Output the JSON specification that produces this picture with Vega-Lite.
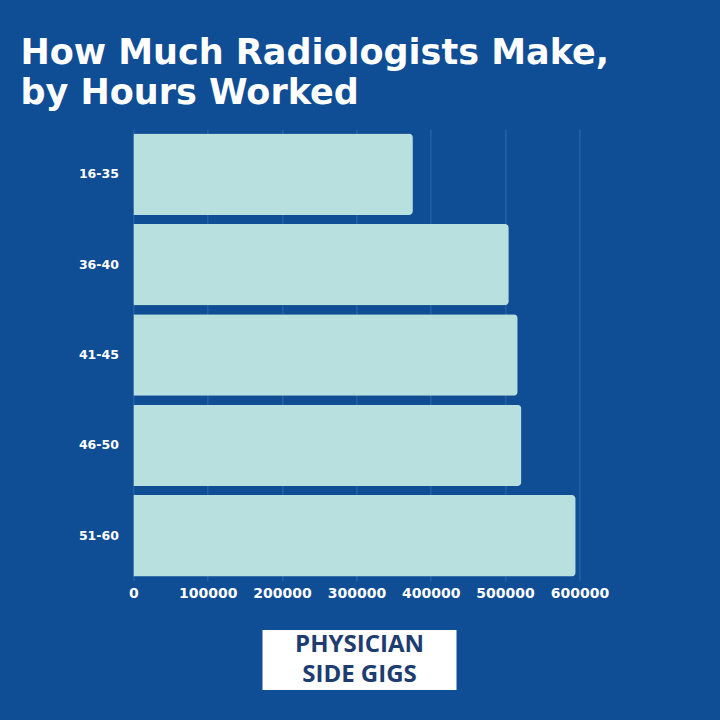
{
  "$schema": "https://vega.github.io/schema/vega-lite/v6.json",
  "background": "#0f4d95",
  "padding": {"left": 20, "top": 36, "right": 140, "bottom": 30},
  "title": {
    "text": ["How Much Radiologists Make,", "by Hours Worked"],
    "anchor": "start",
    "frame": "bounds",
    "dx": -58,
    "color": "#ffffff",
    "font": "DejaVu Sans",
    "fontWeight": "bold",
    "fontSize": 35,
    "lineHeight": 40,
    "offset": 18
  },
  "vconcat": [
    {
      "width": 446,
      "height": 452,
      "data": {
        "values": [
          {"hours": "16-35", "salary": 376000},
          {"hours": "36-40", "salary": 505000},
          {"hours": "41-45", "salary": 517000},
          {"hours": "46-50", "salary": 522000},
          {"hours": "51-60", "salary": 595000}
        ]
      },
      "mark": {"type": "bar", "color": "#b8e0df", "cornerRadiusEnd": 4},
      "encoding": {
        "y": {
          "field": "hours",
          "type": "nominal",
          "sort": ["16-35", "36-40", "41-45", "46-50", "51-60"],
          "scale": {"paddingInner": 0.1, "paddingOuter": 0.05},
          "axis": {
            "title": null,
            "ticks": false,
            "domain": false,
            "labelColor": "#ffffff",
            "labelFont": "DejaVu Sans",
            "labelFontWeight": "bold",
            "labelFontSize": 12.5,
            "labelPadding": 15
          }
        },
        "x": {
          "field": "salary",
          "type": "quantitative",
          "scale": {"domain": [0, 600000], "nice": false},
          "axis": {
            "title": null,
            "values": [0, 100000, 200000, 300000, 400000, 500000, 600000],
            "format": "d",
            "ticks": false,
            "domain": false,
            "grid": true,
            "gridColor": "#5a8ccc",
            "gridOpacity": 0.45,
            "labelOverlap": false,
            "labelFlush": false,
            "labelColor": "#ffffff",
            "labelFont": "DejaVu Sans",
            "labelFontWeight": "bold",
            "labelFontSize": 14,
            "labelPadding": 5
          }
        }
      }
    },
    {
      "width": 194,
      "height": 60,
      "view": {"fill": "#ffffff", "stroke": null},
      "data": {"values": [{"brand": "Physician Side Gigs", "logo": "PHYSICIAN\nSIDE GIGS"}]},
      "mark": {
        "type": "text",
        "lineBreak": "\n",
        "font": "Open Sans",
        "fontWeight": "bold",
        "fontSize": 24,
        "lineHeight": 30,
        "dy": -15,
        "color": "#1d3c70",
        "align": "center",
        "baseline": "middle"
      },
      "encoding": {
        "text": {"field": "logo", "type": "nominal"},
        "y": {
          "field": "brand",
          "type": "nominal",
          "axis": {
            "orient": "right",
            "title": "Logo",
            "titleOpacity": 0,
            "titleFontSize": 11,
            "titlePadding": 12,
            "labels": false,
            "ticks": false,
            "domain": false,
            "grid": false
          }
        }
      }
    }
  ],
  "center": true,
  "spacing": 30,
  "config": {"view": {"stroke": null}}
}
